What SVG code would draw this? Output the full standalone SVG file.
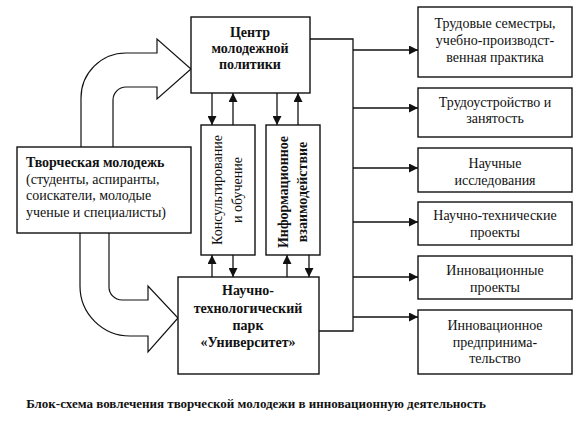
<svg xmlns="http://www.w3.org/2000/svg" width="579" height="421" viewBox="0 0 579 421">
<defs>
<marker id="ah" viewBox="0 0 10 10" refX="10" refY="5" markerWidth="9" markerHeight="9" markerUnits="userSpaceOnUse" orient="auto"><path d="M0,0 L10,5 L0,10 Z" fill="#111"/></marker>
</defs>
<style>
.box{fill:#fff;stroke:#111;stroke-width:1.4}
.ln{fill:none;stroke:#111;stroke-width:1.3}
.big{fill:#fff;stroke:#111;stroke-width:1.2}
.b{font-weight:bold}
.c{text-anchor:middle}
</style>
<rect width="579" height="421" fill="#fff"/>
<g id="connectors">
<path class="big" d="M81,147 V98 A45,45 0 0 1 126,53 H157 V39 L191,69 L157,99 V87 H126 A13,13 0 0 0 113,100 V147"/>
<path class="big" d="M80,233 V286 A50,50 0 0 0 130,336 H148 V352 L178,318 L148,286 V300 H122 A13,13 0 0 1 109,287 V233"/>
<path class="ln" marker-end="url(#ah)" d="M212,93 V125"/>
<path class="ln" marker-end="url(#ah)" d="M233,125 V93"/>
<path class="ln" marker-end="url(#ah)" d="M277,93 V125"/>
<path class="ln" marker-end="url(#ah)" d="M298,125 V93"/>
<path class="ln" marker-end="url(#ah)" d="M212,277 V255"/>
<path class="ln" marker-end="url(#ah)" d="M233,255 V277"/>
<path class="ln" marker-end="url(#ah)" d="M287,277 V255"/>
<path class="ln" marker-end="url(#ah)" d="M309,255 V277"/>
<path class="ln" d="M310,39 H353 V331 H319"/>
<path class="ln" marker-end="url(#ah)" d="M353,50 H418"/>
<path class="ln" marker-end="url(#ah)" d="M353,108 H418"/>
<path class="ln" marker-end="url(#ah)" d="M353,168 H418"/>
<path class="ln" marker-end="url(#ah)" d="M353,222 H418"/>
<path class="ln" marker-end="url(#ah)" d="M353,277 H418"/>
<path class="ln" marker-end="url(#ah)" d="M353,317 H418"/>
</g>
<g font-family="'Liberation Serif', serif" font-size="14" fill="#111">
<g id="center">
<rect class="box" x="191" y="17" width="119" height="76"/>
<text font-family="'Liberation Serif', serif" font-size="14" class="b c" x="250" y="37">Центр</text>
<text font-family="'Liberation Serif', serif" font-size="14" class="b c" x="250" y="53">молодежной</text>
<text font-family="'Liberation Serif', serif" font-size="14" class="b c" x="250" y="69">политики</text>
</g>
<g id="youth">
<rect class="box" x="17" y="147" width="174" height="86"/>
<text font-family="'Liberation Serif', serif" font-size="14" class="b" x="26" y="167">Творческая молодежь</text>
<text font-family="'Liberation Serif', serif" font-size="14" x="26" y="184">(студенты, аспиранты,</text>
<text font-family="'Liberation Serif', serif" font-size="14" x="26" y="200">соискатели, молодые</text>
<text font-family="'Liberation Serif', serif" font-size="14" x="26" y="217">ученые и специалисты)</text>
</g>
<g id="consult">
<rect class="box" x="201" y="125" width="54" height="130"/>
<g transform="translate(228,190) rotate(-90)">
<text font-family="'Liberation Serif', serif" font-size="14" class="c" x="0" y="-6">Консультирование</text>
<text font-family="'Liberation Serif', serif" font-size="14" class="c" x="0" y="14">и обучение</text>
</g>
</g>
<g id="info">
<rect class="box" x="266" y="125" width="54" height="130"/>
<g transform="translate(293,192) rotate(-90)">
<text font-family="'Liberation Serif', serif" font-size="14" class="b c" x="0" y="-5">Информационное</text>
<text font-family="'Liberation Serif', serif" font-size="14" class="b c" x="0" y="14">взаимодействие</text>
</g>
</g>
<g id="park">
<rect class="box" x="178" y="277" width="141" height="97"/>
<text font-family="'Liberation Serif', serif" font-size="14" class="b c" x="248" y="295">Научно-</text>
<text font-family="'Liberation Serif', serif" font-size="14" class="b c" x="248" y="313">технологический</text>
<text font-family="'Liberation Serif', serif" font-size="14" class="b c" x="248" y="330">парк</text>
<text font-family="'Liberation Serif', serif" font-size="14" class="b c" x="248" y="347">«Университет»</text>
</g>
<g id="r1">
<rect class="box" x="418" y="7" width="154" height="70"/>
<text font-family="'Liberation Serif', serif" font-size="14" class="c" x="495" y="28">Трудовые семестры,</text>
<text font-family="'Liberation Serif', serif" font-size="14" class="c" x="495" y="45">учебно-производст-</text>
<text font-family="'Liberation Serif', serif" font-size="14" class="c" x="495" y="62">венная практика</text>
</g>
<g id="r2">
<rect class="box" x="418" y="88" width="154" height="49"/>
<text font-family="'Liberation Serif', serif" font-size="14" class="c" x="495" y="107">Трудоустройство и</text>
<text font-family="'Liberation Serif', serif" font-size="14" class="c" x="495" y="123">занятость</text>
</g>
<g id="r3">
<rect class="box" x="418" y="148" width="154" height="44"/>
<text font-family="'Liberation Serif', serif" font-size="14" class="c" x="495" y="168">Научные</text>
<text font-family="'Liberation Serif', serif" font-size="14" class="c" x="495" y="185">исследования</text>
</g>
<g id="r4">
<rect class="box" x="418" y="202" width="154" height="43"/>
<text font-family="'Liberation Serif', serif" font-size="14" class="c" x="495" y="220">Научно-технические</text>
<text font-family="'Liberation Serif', serif" font-size="14" class="c" x="495" y="237">проекты</text>
</g>
<g id="r5">
<rect class="box" x="418" y="256" width="154" height="43"/>
<text font-family="'Liberation Serif', serif" font-size="14" class="c" x="495" y="275">Инновационные</text>
<text font-family="'Liberation Serif', serif" font-size="14" class="c" x="495" y="292">проекты</text>
</g>
<g id="r6">
<rect class="box" x="418" y="310" width="154" height="64"/>
<text font-family="'Liberation Serif', serif" font-size="14" class="c" x="495" y="330">Инновационное</text>
<text font-family="'Liberation Serif', serif" font-size="14" class="c" x="495" y="347">предпринима-</text>
<text font-family="'Liberation Serif', serif" font-size="14" class="c" x="495" y="363">тельство</text>
</g>
<text font-family="'Liberation Serif', serif" font-size="13" class="b c" x="256" y="408">Блок-схема вовлечения творческой молодежи в инновационную деятельность</text>
</g>
</svg>
